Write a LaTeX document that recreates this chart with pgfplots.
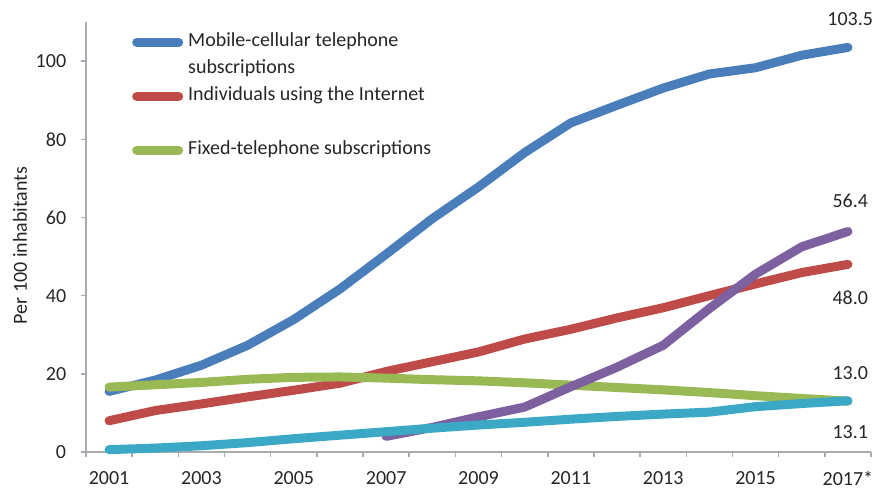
\documentclass[border=0pt]{standalone}
\usepackage{fontspec}
\setmainfont{Carlito}
\usepackage{pgfplots}
\pgfplotsset{compat=1.18}

\definecolor{mobblue}{HTML}{4A7EBB}
\definecolor{netred}{HTML}{BE4B48}
\definecolor{fixgreen}{HTML}{98B954}
\definecolor{mbbpurple}{HTML}{7D60A0}
\definecolor{fbbcyan}{HTML}{3BA9C5}
\definecolor{axisgray}{RGB}{170,170,176}
\definecolor{textcol}{RGB}{38,38,38}

\begin{document}
\fontsize{20}{24}\selectfont
\color{textcol}
\begin{tikzpicture}
\begin{axis}[
    scale only axis,
    width=785pt, height=430pt,
    xmin=-0.5, xmax=16.5,
    ymin=0, ymax=110,
    clip=false,
    /pgf/number format/assume math mode=true,
    axis x line=bottom, axis y line=left,
    axis line style={draw=axisgray, line width=1.5pt, -},
    tick align=outside,
    major tick length=5pt,
    tick style={draw=axisgray, line width=1.5pt},
    xtick={-0.5,0.5,...,16.5},
    xticklabels={},
    extra x ticks={0,2,4,6,8,10,12,14,16},
    extra x tick labels={2001,2003,2005,2007,2009,2011,2013,2015,2017*},
    extra x tick style={major tick length=0pt,
        tick label style={inner sep=0pt, yshift=-19.5pt}},
    ytick={0,20,40,60,80,100},
    yticklabel style={xshift=-8pt},
    ylabel={Per 100 inhabitants},
    ylabel style={at={(axis description cs:-0.0841,0.48)}, anchor=center},
    legend cell align=left,
    legend style={at={(axis description cs:0.0586,0.973)}, anchor=north west,
        draw=none, fill=none, inner sep=0pt, row sep=10pt, column sep=5pt,
        nodes={inner sep=0pt, text height=13pt, text depth=4pt}},
    legend image code/.code={\draw[#1, line cap=round] (0pt,0pt) -- (42pt,0pt);},
    every axis plot/.append style={line width=9pt, line cap=round, line join=round, no marks},
]
% Mobile-cellular telephone subscriptions
\addplot[mobblue] coordinates {
  (0,15.5) (1,18.4) (2,22.2) (3,27.3) (4,33.9) (5,41.7) (6,50.6) (7,59.7)
  (8,67.8) (9,76.6) (10,84.2) (11,88.7) (12,93.1) (13,96.7) (14,98.3) (15,101.5) (16,103.5)};
\addlegendentry{Mobile-cellular telephone}
\addlegendimage{empty legend}
\addlegendentry{subscriptions}
% Individuals using the Internet
\addplot[netred] coordinates {
  (0,8.0) (1,10.6) (2,12.3) (3,14.1) (4,15.8) (5,17.6) (6,20.6) (7,23.1)
  (8,25.6) (9,28.9) (10,31.4) (11,34.3) (12,36.9) (13,40.0) (14,43.0) (15,45.9) (16,48.0)};
\addlegendentry{Individuals using the Internet}
\addlegendimage{empty legend}
\addlegendentry{\mbox{}}
% Fixed-telephone subscriptions
\addplot[fixgreen] coordinates {
  (0,16.6) (1,17.2) (2,17.8) (3,18.6) (4,19.1) (5,19.2) (6,18.9) (7,18.5)
  (8,18.2) (9,17.7) (10,17.1) (11,16.5) (12,15.9) (13,15.2) (14,14.4) (15,13.7) (16,13.0)};
\addlegendentry{Fixed-telephone subscriptions}
% Active mobile-broadband subscriptions
\addplot[mbbpurple, forget plot] coordinates {
  (6,4.0) (7,6.3) (8,9.0) (9,11.5) (10,16.7) (11,21.7) (12,27.3) (13,36.7)
  (14,45.5) (15,52.5) (16,56.4)};
% Fixed-broadband subscriptions
\addplot[fbbcyan, forget plot] coordinates {
  (0,0.6) (1,1.0) (2,1.6) (3,2.4) (4,3.4) (5,4.3) (6,5.2) (7,6.1)
  (8,6.9) (9,7.6) (10,8.4) (11,9.1) (12,9.7) (13,10.2) (14,11.6) (15,12.4) (16,13.1)};

\node[anchor=center] at (axis cs:16.05,110.7) {103.5};
\node[anchor=center] at (axis cs:16.05,64.3) {56.4};
\node[anchor=center] at (axis cs:16.05,39.5) {48.0};
\node[anchor=center] at (axis cs:16.05,20.3) {13.0};
\node[anchor=center] at (axis cs:16.05,5.0) {13.1};
\end{axis}
\pgfresetboundingbox
\useasboundingbox (-86pt,-38pt) rectangle (788pt,452pt);
\end{tikzpicture}
\end{document}
